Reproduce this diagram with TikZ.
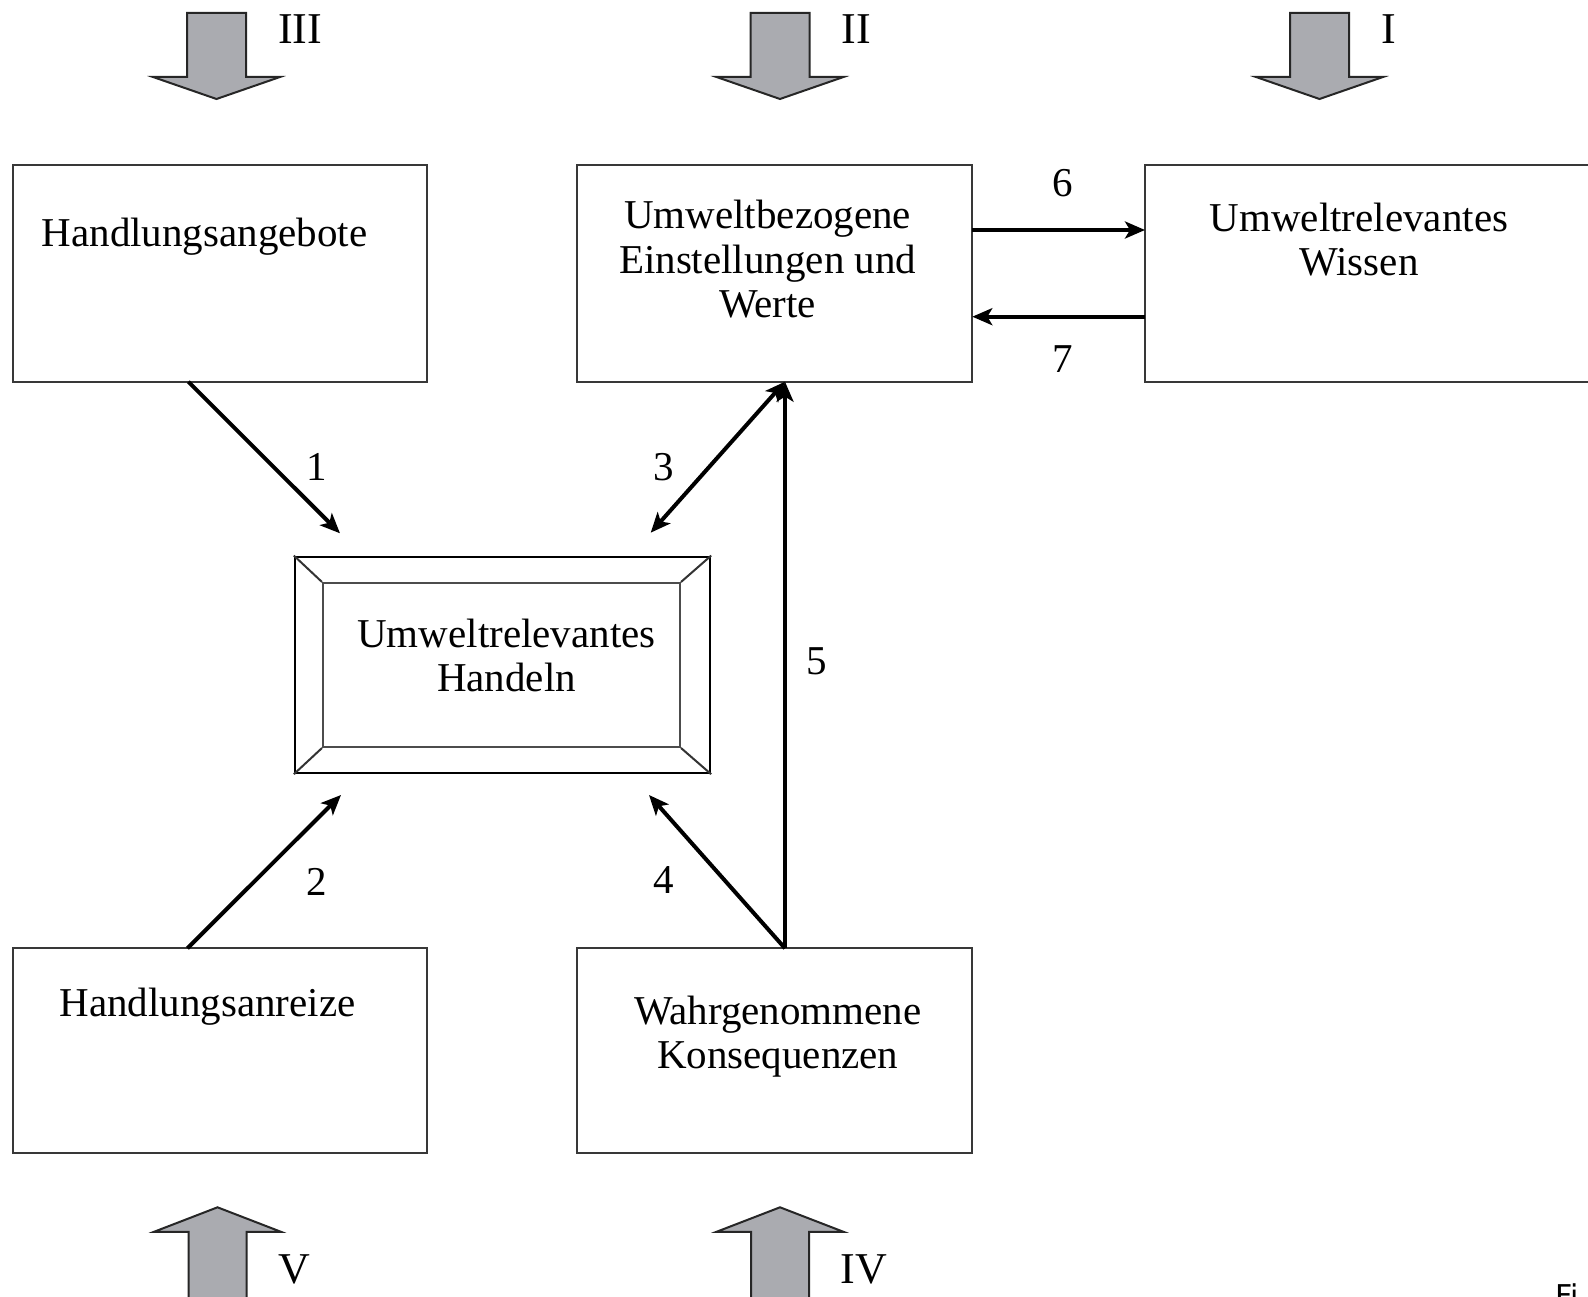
\documentclass[tikz,border=0pt]{standalone}
\usepackage{fontspec}
\setmainfont{Liberation Serif}
\newfontfamily\capfont{DejaVu Sans}
\usetikzlibrary{arrows.meta,calc}
\definecolor{arrowgray}{RGB}{170,171,176}
\begin{document}
\begin{tikzpicture}[x=1pt,y=-1pt,
  box/.style={draw=black!78, line width=2.3pt, rectangle, inner sep=0pt},
  txt/.style={font=\fontsize{41}{44.5}\selectfont, align=center, inner sep=0pt},
  num/.style={font=\fontsize{41}{44}\selectfont, inner sep=0pt, anchor=base},
  roman/.style={font=\fontsize{44}{44}\selectfont, inner sep=0pt, anchor=base},
  conn/.style={line width=4pt, -{Stealth[length=20pt,width=17pt,inset=5pt]}},
  dconn/.style={line width=4pt, {Stealth[length=20pt,width=17pt,inset=5pt]}-{Stealth[length=20pt,width=17pt,inset=5pt]}},
  bigarrow/.style={fill=arrowgray, draw=black!85, line width=2pt, line join=miter},
  downarr/.pic={\draw[bigarrow] (-29.5,0) -- (29.5,0) -- (29.5,64) -- (63.5,64) -- (0,86) -- (-63.5,64) -- (-29.5,64) -- cycle;},
  uparr/.pic={\draw[bigarrow] (0,0) -- (63.5,24.5) -- (29,24.5) -- (29,110) -- (-29,110) -- (-29,24.5) -- (-63.5,24.5) -- cycle;}
]
\useasboundingbox (0,0) rectangle (1588,1297);
\clip (0,0) rectangle (1588,1297);

% boxes
\node[box, minimum width=414pt, minimum height=216.7pt] (A) at (219.7,273.3) {};
\node[box, minimum width=395.6pt, minimum height=216.7pt] (B) at (774.5,273.3) {};
\node[box, minimum width=455pt, minimum height=216.7pt] (C) at (1372.5,273.3) {};
\node[box, minimum width=414pt, minimum height=205pt] (D) at (219.7,1050.8) {};
\node[box, minimum width=395.6pt, minimum height=205pt] (E) at (774.5,1050.8) {};

% central bevelled box
\node[box, draw=black, minimum width=415pt, minimum height=216.3pt] (H) at (502.5,664.9) {};
\node[box, draw=black!70, line width=2pt, minimum width=357pt, minimum height=164pt] (Hi) at (501.5,665) {};
\draw[black!80, line width=2pt] (H.north west) -- (Hi.north west)
  (H.north east) -- (Hi.north east)
  (H.south west) -- (Hi.south west)
  (H.south east) -- (Hi.south east);

% texts
\node[txt, anchor=base] (tA) at (204.6,247) {Handlungsangebote};
\node[txt] (tB) at (767.7,259.4) {Umweltbezogene\\Einstellungen und\\Werte};
\node[txt] (tC) at (1359,239.6) {Umweltrelevantes\\Wissen};
\node[txt] (tH) at (506.5,655.4) {Umweltrelevantes\\Handeln};
\node[txt, anchor=base] (tD) at (207.6,1016) {Handlungsanreize};
\node[txt] (tE) at (777.8,1036.5) {Wahrgenommene\\Konsequenzen};

% connector end points
\coordinate (a1s) at (188.3,381.7);
\coordinate (a1e) at (340,533.3);
\coordinate (a2s) at (187.4,948.3);
\coordinate (a2e) at (341,795);
\coordinate (bB) at (785,381.7);
\coordinate (a3e) at (650.7,532.7);
\coordinate (tE5) at (785,948.3);
\coordinate (a4e) at (649,795);
\coordinate (b6) at (972.3,230);
\coordinate (c6) at (1145,230);
\coordinate (b7) at (972.3,316.7);
\coordinate (c7) at (1145,316.7);

\draw[conn] (a1s) -- (a1e);
\draw[conn] (a2s) -- (a2e);
\draw[dconn] (bB) -- (a3e);
\draw[conn] (tE5) -- (a4e);
\draw[conn, line width=3.4pt] (tE5) -- (bB);
\draw[conn] (b6) -- (c6);
\draw[conn] (c7) -- (b7);

% numbers
\node[num] (n1) at (316.7,480) {1};
\node[num] (n2) at (317,895) {2};
\node[num] (n3) at (663.3,480) {3};
\node[num] (n4) at (663.4,893) {4};
\node[num] (n5) at (816.3,674) {5};
\node[num] (n6) at (1063,197) {6};
\node[num] (n7) at (1063,373) {7};

% big arrows
\pic at (216.5,13) {downarr};
\pic at (780,13) {downarr};
\pic at (1319.5,13) {downarr};
\pic at (217.5,1207.3) {uparr};
\pic at (780,1207.3) {uparr};

\node[roman] (r3) at (300,44) {III};
\node[roman] (r2) at (856,44) {II};
\node[roman] (r1) at (1388.6,44) {I};
\node[roman] (r5) at (294,1283) {V};
\node[roman] (r4) at (864,1283) {IV};

\node[font=\capfont\fontsize{30}{30}\selectfont, anchor=north west, inner sep=0pt] (fig) at (1555,1283) {Fi};
\end{tikzpicture}
\end{document}
